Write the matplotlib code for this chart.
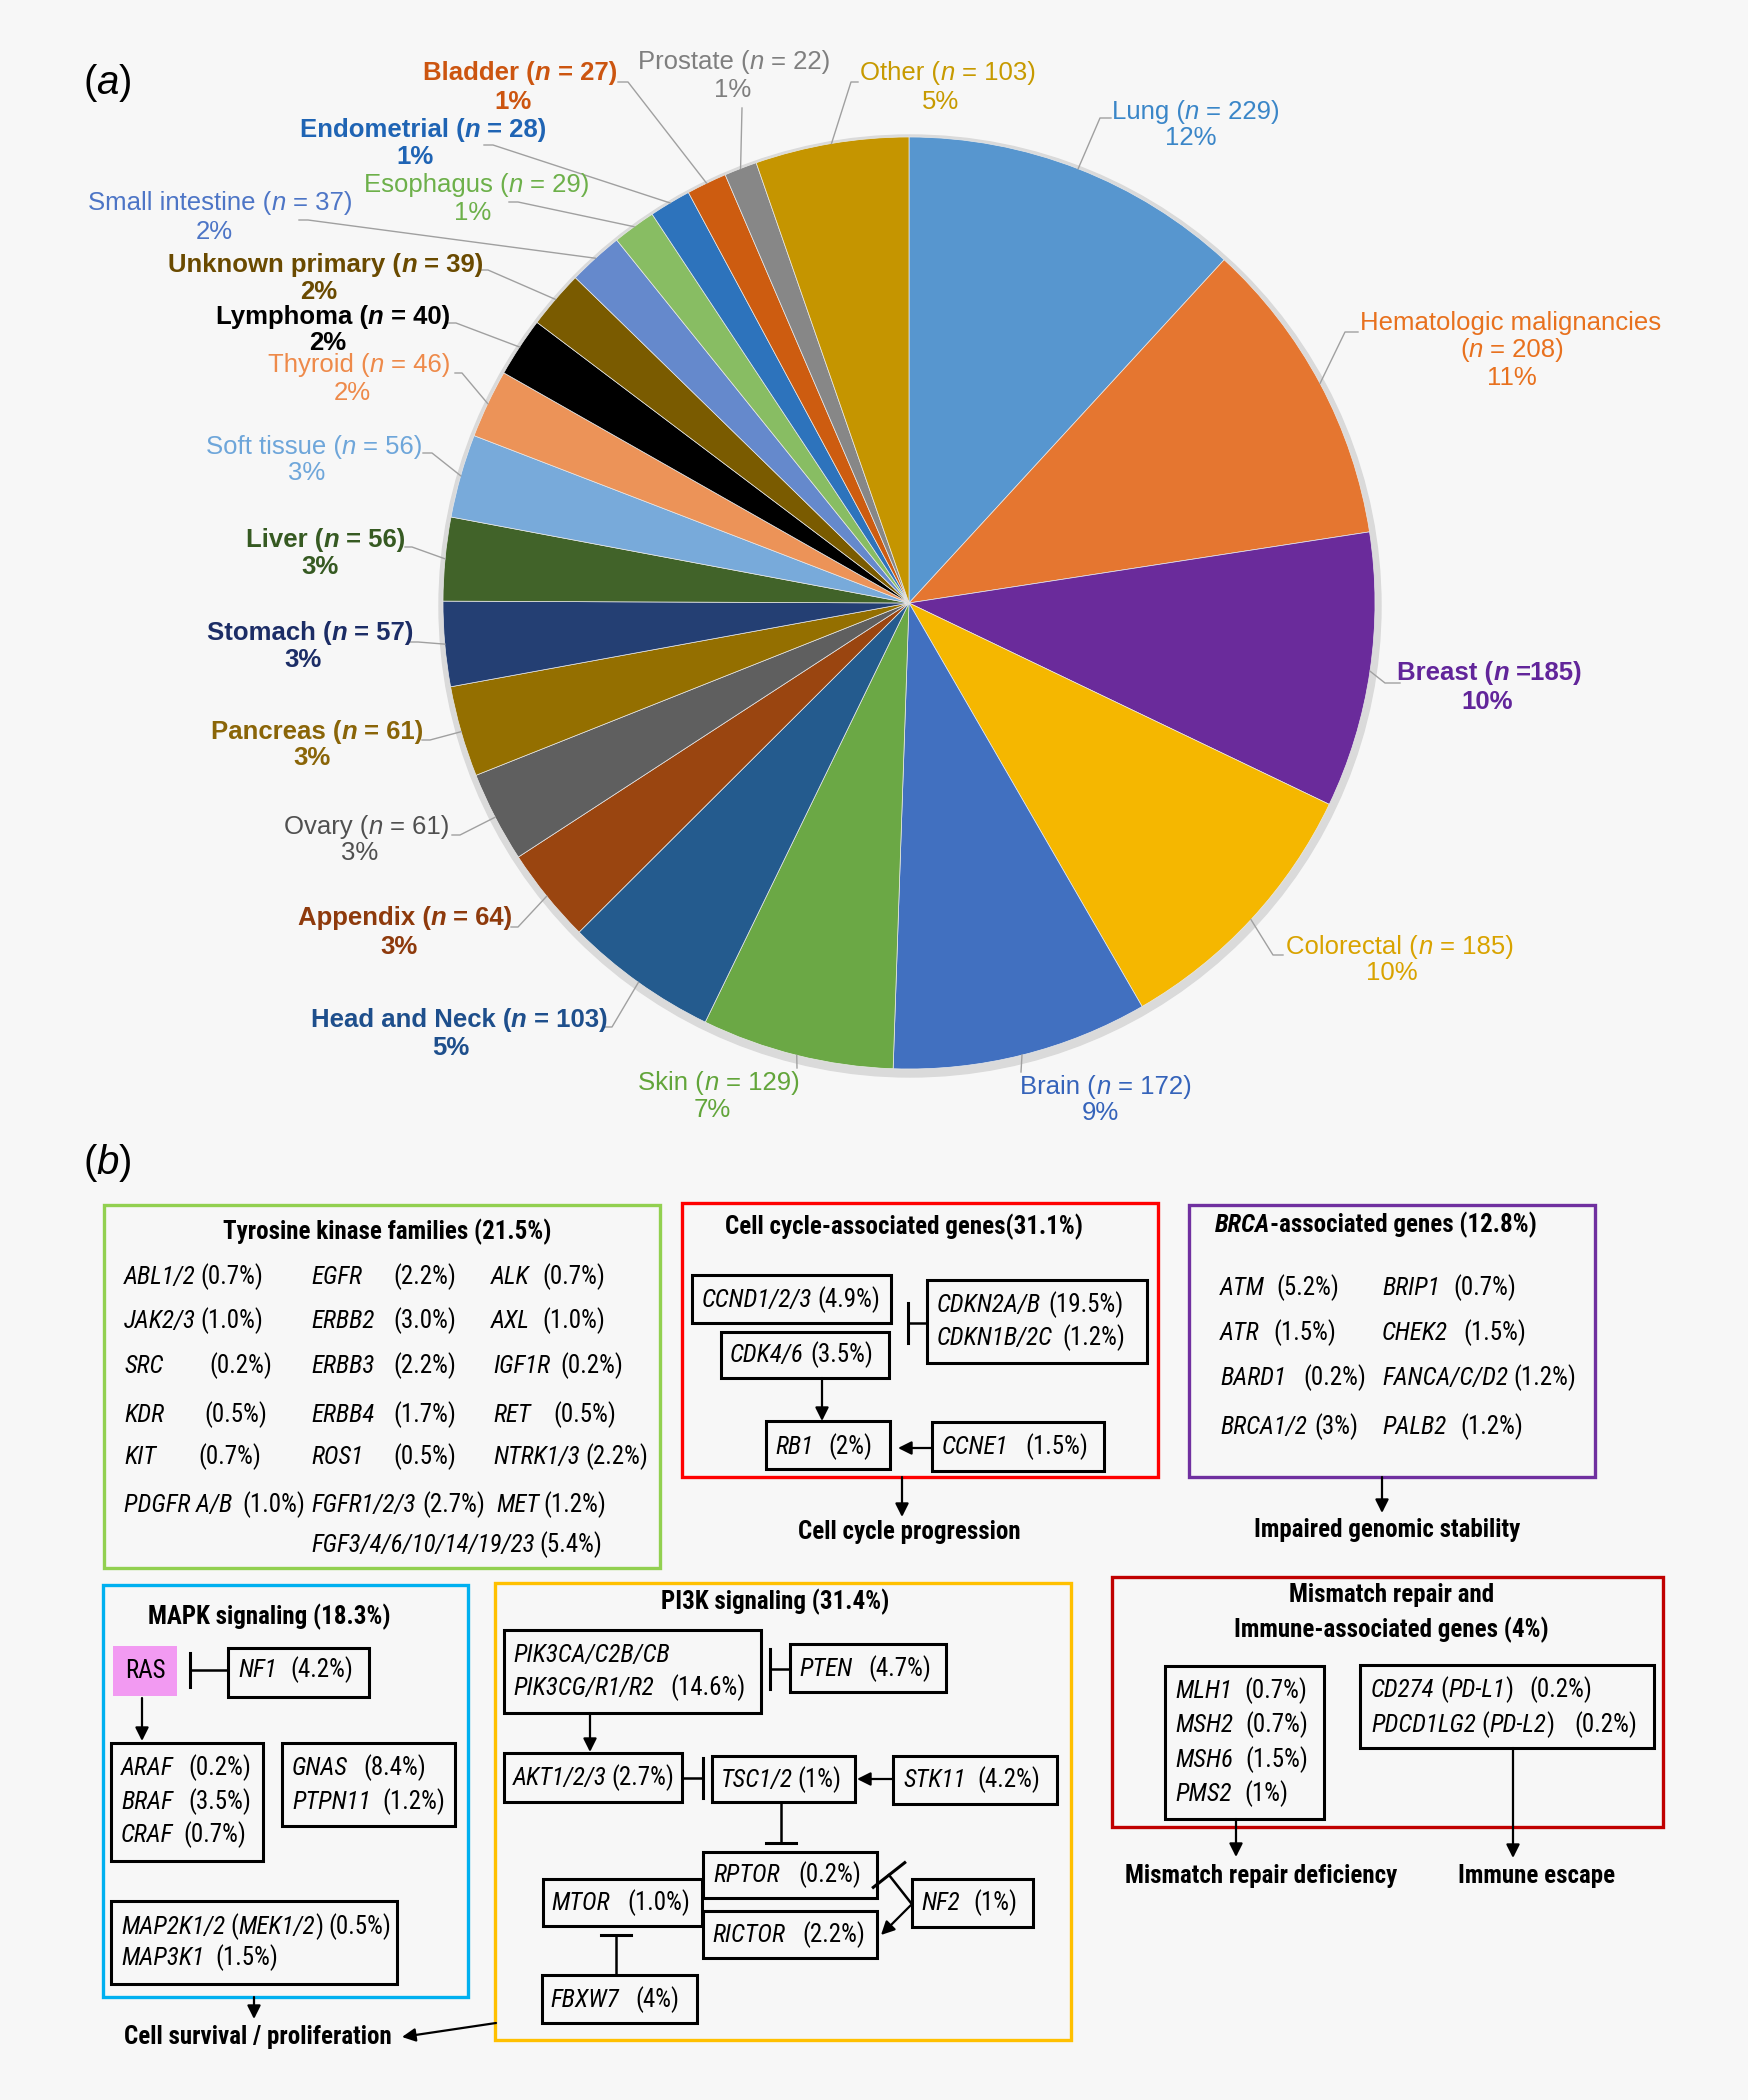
import numpy as np
import matplotlib.pyplot as plt
from matplotlib import font_manager
from matplotlib.font_manager import FontProperties
from matplotlib.patches import Rectangle, Circle

W, H = 1748, 2100
BG = '#f7f7f7'

# ---------------- panel (a) data
sites = ['Lung', 'Hematologic malignancies', 'Breast', 'Colorectal', 'Brain', 'Skin',
         'Head and Neck', 'Appendix', 'Ovary', 'Pancreas', 'Stomach', 'Liver',
         'Soft tissue', 'Thyroid', 'Lymphoma', 'Unknown primary', 'Small intestine',
         'Esophagus', 'Endometrial', 'Bladder', 'Prostate', 'Other']
counts = [229, 208, 185, 185, 172, 129, 103, 64, 61, 61, 57, 56, 56, 46, 40, 39, 37,
          29, 28, 27, 22, 103]

wedge_colors = ['#5796CF', '#E57630', '#6A2B9B', '#F5B700', '#4170C0', '#6BA845',
                '#245B8E', '#9A4510', '#5F5F5F', '#946F00', '#243F73', '#416329',
                '#78AADA', '#EC9358', '#000000', '#7A5B00', '#6589CC', '#88BD63',
                '#2D73BC', '#CD5C10', '#878787', '#C59500']
label_colors = ['#3A86C8', '#E8711E', '#62259A', '#D9A300', '#3563BA', '#62A53A',
                '#1E4F8C', '#8E3A0C', '#505050', '#8A6508', '#1C2D66', '#365A22',
                '#6EA6DA', '#EE8A4A', '#000000', '#6A4A00', '#4D75C6', '#6DB04A',
                '#1F64B4', '#CC5510', '#7F7F7F', '#C79A00']
bold_sites = {'Unknown primary', 'Lymphoma', 'Liver', 'Stomach', 'Pancreas', 'Appendix',
              'Head and Neck', 'Breast', 'Bladder', 'Endometrial'}

# label layout (pixels): first line centre, percent line centre, leader path
lab1 = [(1196, 112), (1511, 323), (1490, 673), (1400, 947), (1106, 1087), (719, 1083),
        (459, 1020), (405, 918), (367, 827), (317, 732), (310, 633), (326, 540),
        (314, 447), (359, 365), (333, 317), (326, 265), (220, 203), (477, 185),
        (423, 130), (520, 73), (734, 62), (948, 73)]
lab2 = [(1191, 138), (1512, 378), (1487, 702), (1392, 973), (1100, 1113), (712, 1110),
        (451, 1048), (399, 947), (360, 853), (312, 758), (303, 660), (320, 567),
        (307, 473), (352, 393), (328, 343), (319, 292), (214, 232), (473, 213),
        (415, 157), (513, 102), (733, 90), (941, 102)]
lead = [[(1100, 118), (1111, 118)], [(1345, 332), (1358, 332)], [(1385, 683), (1400, 683)],
        [(1273, 955), (1283, 955)], [(1021, 1072)], [(797, 1068)],
        [(612, 1027), (604, 1027)], [(518, 927), (511, 927)], [(460, 835), (452, 835)],
        [(430, 740), (422, 740)], [(418, 642), (410, 642)], [(412, 547), (405, 547)],
        [(432, 453), (423, 453)], [(462, 373), (455, 373)], [(456, 323), (448, 323)],
        [(488, 270), (480, 270)], [(308, 220), (299, 220)], [(518, 202), (509, 202)],
        [(493, 145), (484, 145)], [(628, 82), (618, 82)], [(742, 108)],
        [(851, 82), (858, 82)]]

# ---------------- panel (b) data
tk_genes = ['ABL1/2', 'JAK2/3', 'SRC', 'KDR', 'KIT', 'PDGFR A/B',
            'EGFR', 'ERBB2', 'ERBB3', 'ERBB4', 'ROS1', 'FGFR1/2/3', 'FGF3/4/6/10/14/19/23',
            'ALK', 'AXL', 'IGF1R', 'RET', 'NTRK1/3', 'MET']
tk_pct = ['0.7', '1.0', '0.2', '0.5', '0.7', '1.0',
          '2.2', '3.0', '2.2', '1.7', '0.5', '2.7', '5.4',
          '0.7', '1.0', '0.2', '0.5', '2.2', '1.2']
cc_genes = ['CCND1/2/3', 'CDK4/6', 'CDKN2A/B', 'CDKN1B/2C', 'RB1', 'CCNE1']
cc_pct = ['4.9', '3.5', '19.5', '1.2', '2', '1.5']
brca_genes = ['ATM', 'ATR', 'BARD1', 'BRCA1/2', 'BRIP1', 'CHEK2', 'FANCA/C/D2', 'PALB2']
brca_pct = ['5.2', '1.5', '0.2', '3', '0.7', '1.5', '1.2', '1.2']
mapk_genes = ['NF1', 'ARAF', 'BRAF', 'CRAF', 'GNAS', 'PTPN11', 'MAP2K1/2 (MEK1/2)', 'MAP3K1']
mapk_pct = ['4.2', '0.2', '3.5', '0.7', '8.4', '1.2', '0.5', '1.5']
pi_genes = ['PIK3CA/C2B/CB', 'PIK3CG/R1/R2', 'PTEN', 'AKT1/2/3', 'TSC1/2', 'STK11',
            'RPTOR', 'MTOR', 'RICTOR', 'NF2', 'FBXW7']
pi_pct = [None, '14.6', '4.7', '2.7', '1', '4.2', '0.2', '1.0', '2.2', '1', '4']
mmr_genes = ['MLH1', 'MSH2', 'MSH6', 'PMS2', 'CD274 (PD-L1)', 'PDCD1LG2 (PD-L2)']
mmr_pct = ['0.7', '0.7', '1.5', '1', '0.2', '0.2']

# layout of the gene texts: gene x, percent x, y
rows = [1277, 1321, 1366, 1415, 1457, 1505, 1545]
tk_xg = [124] * 6 + [311] * 7 + [491, 491, 493, 493, 493, 496]
tk_xp = [198, 198, 209, 204, 198, 242, 393, 393, 393, 393, 393, 422, 523,
         542, 542, 560, 553, 585, 542]
tk_y = rows[:6] + rows[:7] + rows[:6]
cc_xg = [702, 730, 937, 937, 775, 942]
cc_xp = [815, 810, 1048, 1062, 828, 1025]
cc_y = [1300, 1355, 1305, 1338, 1447, 1447]
brca_xg = [1220] * 4 + [1382] * 4
brca_xp = [1276, 1273, 1303, 1314, 1453, 1463, 1513, 1460]
brca_y = [1288, 1333, 1378, 1427] * 2
mapk_xg = [238, 121, 121, 121, 292, 292, 121, 121]
mapk_xp = [290, 188, 188, 183, 363, 382, 323, 215]
mapk_y = [1670, 1768, 1802, 1835, 1768, 1802, 1927, 1958]
pi_xg = [513, 513, 799, 513, 721, 903, 713, 551, 712, 921, 550]
pi_xp = [None, 670, 868, 608, 796, 977, 798, 627, 802, 973, 635]
pi_y = [1655, 1688, 1669, 1778, 1780, 1780, 1875, 1903, 1935, 1903, 2000]
mmr_xg = [1175] * 4 + [1371, 1371]
mmr_xp = [1244, 1245, 1245, 1244, 1529, 1574]
mmr_y = [1691, 1725, 1760, 1794, 1690, 1725]

# ---------------- fonts
names = {f.name for f in font_manager.fontManager.ttflist}
FA = 'Liberation Sans'
FB, SB, ST = 'Liberation Sans', 16, 17
for cand in ['Liberation Sans Narrow', 'Arial Narrow', 'Roboto Condensed',
             'Open Sans Condensed', 'Noto Sans Condensed']:
    if cand in names:
        FB, SB, ST = cand, 18, 18
        break
SA = 18.5

fig = plt.figure(figsize=(W / 100, H / 100), dpi=100, facecolor=BG)
ax = fig.add_axes([0, 0, 1, 1])
ax.set_facecolor(BG)
R = fig.canvas.get_renderer()


def width(s, fp):
    w2 = R.get_text_width_height_descent('xx', fp, ismath=False)[0]
    w = R.get_text_width_height_descent('x' + s + 'x', fp, ismath=False)[0]
    return w - w2


def rich(x, y, parts, size, color='black', family=FA, ha='left', weight='normal'):
    fps = [FontProperties(family=family, size=size, weight=weight,
                          style='italic' if it else 'normal') for s, it in parts]
    ws = [width(s, fp) for (s, it), fp in zip(parts, fps)]
    x0 = x - sum(ws) / 2 if ha == 'center' else x
    for (s, it), fp, w in zip(parts, fps, ws):
        lead_sp = len(s) - len(s.lstrip())
        xo = width(s[:lead_sp], fp) if lead_sp else 0
        ax.text(x0 + xo, y, s.strip(), fontproperties=fp, color=color,
                ha='left', va='center', zorder=5)
        x0 += w
    return x0


def gene_parts(g):
    if ' (' in g:
        a, b = g.split(' (')
        return [(a, True), (' (', False), (b.rstrip(')'), True), (')', False)]
    return [(g, True)]


def genes(glist, plist, xg, xp, ys):
    gap = width(' ', FontProperties(family=FB, size=SB)) * 0.8
    for g, p, a, b, y in zip(glist, plist, xg, xp, ys):
        end = rich(a, y, gene_parts(g), SB, family=FB)
        if p is not None:
            ax.text(max(b, end + gap), y, '(%s%%)' % p, fontsize=SB, family=FB,
                    va='center', ha='left', zorder=5)


def box(x0, y0, x1, y1, ec='black', lw=2.2, fc=None):
    ax.add_patch(Rectangle((x0, y0), x1 - x0, y1 - y0, fill=fc is not None,
                           facecolor=fc, edgecolor=ec if fc is None else 'none', lw=lw, zorder=3))


def arrow(x0, y0, x1, y1):
    ax.annotate('', xy=(x1, y1), xytext=(x0, y0),
                arrowprops=dict(arrowstyle='-|>,head_length=0.5,head_width=0.25', color='black',
                                lw=1.6, shrinkA=0, shrinkB=0, mutation_scale=16), zorder=4)


def inhibit(x0, y0, x1, y1, half=20):
    ax.plot([x0, x1], [y0, y1], color='black', lw=1.8, zorder=4)
    d = np.array([x1 - x0, y1 - y0], float)
    d /= np.hypot(*d)
    p = np.array([-d[1], d[0]])
    ax.plot([x1 - half * p[0], x1 + half * p[0]], [y1 - half * p[1], y1 + half * p[1]],
            color='black', lw=2.2, zorder=4)


def title(x, y, s, ha='center'):
    ax.text(x, y, s, fontsize=ST, family=FB, weight='bold', ha=ha, va='center', zorder=5)


# ---------------- panel (a): pie
cx, cy, RAD = 909, 603, 466
ax.add_patch(Circle((cx + 1, cy + 3), RAD + 5, color='#dadada', zorder=0.5))
wedges, _ = ax.pie(counts, colors=wedge_colors, startangle=270, counterclock=True,
                   center=(cx, cy), radius=RAD, frame=True,
                   wedgeprops=dict(edgecolor='#e9e9e9', linewidth=0.5))
total = sum(counts)
for i, w in enumerate(wedges):
    mid = np.deg2rad((w.theta1 + w.theta2) / 2)
    pts = [(cx + RAD * np.cos(mid), cy + RAD * np.sin(mid))] + lead[i]
    ax.plot([p[0] for p in pts], [p[1] for p in pts], color='#a0a0a0', lw=1.0, zorder=1)
    col = label_colors[i]
    wt = 'bold' if sites[i] in bold_sites else 'normal'
    pct = '%d%%' % round(counts[i] / total * 100)
    if sites[i] == 'Hematologic malignancies':
        rich(lab1[i][0], lab1[i][1], [(sites[i], False)], SA, col, ha='center', weight=wt)
        rich(lab2[i][0], 350, [('(', False), ('n', True), (' = %d)' % counts[i], False)],
             SA, col, ha='center', weight=wt)
    else:
        eq = ' =' if sites[i] == 'Breast' else ' = '
        rich(lab1[i][0], lab1[i][1],
             [(sites[i] + ' (', False), ('n', True), (eq + '%d)' % counts[i], False)],
             SA, col, ha='center', weight=wt)
    rich(lab2[i][0], lab2[i][1], [(pct, False)], SA, col, ha='center', weight=wt)

rich(83, 83, [('(', False), ('a', True), (')', False)], 29)
rich(83, 1163, [('(', False), ('b', True), (')', False)], 29)

# ---------------- panel (b)
# tyrosine kinase families
box(104, 1205, 660, 1568, ec='#92D050', lw=2.4)
title(387, 1232, 'Tyrosine kinase families (21.5%)')
genes(tk_genes, tk_pct, tk_xg, tk_xp, tk_y)

# cell cycle
box(682, 1203, 1158, 1477, ec='#FF0000', lw=2.4)
title(904, 1227, 'Cell cycle-associated genes(31.1%)')
for b in [(692, 1275, 891, 1323), (721, 1332, 889, 1378), (927, 1280, 1147, 1363),
          (766, 1421, 890, 1469), (932, 1422, 1104, 1471)]:
    box(*b)
genes(cc_genes, cc_pct, cc_xg, cc_xp, cc_y)
inhibit(927, 1323, 908, 1323)
arrow(822, 1378, 822, 1421)
arrow(931, 1448, 898, 1448)
arrow(902, 1477, 902, 1517)
title(909, 1532, 'Cell cycle progression')

# BRCA
box(1189, 1205, 1595, 1477, ec='#7030A0', lw=2.4)
rich(1215, 1225, [('BRCA', True), ('-associated genes (12.8%)', False)], ST, family=FB, weight='bold')
genes(brca_genes, brca_pct, brca_xg, brca_xp, brca_y)
arrow(1382, 1477, 1382, 1513)
title(1387, 1530, 'Impaired genomic stability')

# MAPK
box(103, 1585, 468, 1997, ec='#00B0F0', lw=2.4)
title(269, 1617, 'MAPK signaling (18.3%)')
box(113, 1646, 177, 1696, fc='#F29AF2')
ax.text(145, 1671, 'RAS', fontsize=SB, family=FB, ha='center', va='center', zorder=5)
for b in [(228, 1648, 369, 1697), (111, 1743, 263, 1861), (282, 1743, 455, 1826),
          (111, 1901, 397, 1984)]:
    box(*b)
genes(mapk_genes, mapk_pct, mapk_xg, mapk_xp, mapk_y)
inhibit(228, 1670, 190, 1670, half=17)
arrow(142, 1698, 142, 1741)
arrow(254, 1997, 254, 2019)
title(258, 2037, 'Cell survival / proliferation')
arrow(496, 2023, 402, 2037)

# PI3K
box(495, 1583, 1071, 2040, ec='#FFC000', lw=2.4)
title(775, 1602, 'PI3K signaling (31.4%)')
for b in [(504, 1630, 761, 1713), (790, 1644, 946, 1692), (504, 1753, 682, 1802),
          (712, 1756, 855, 1802), (893, 1756, 1057, 1804), (703, 1852, 877, 1898),
          (543, 1879, 702, 1926), (703, 1911, 877, 1958), (912, 1879, 1033, 1927),
          (542, 1975, 697, 2023)]:
    box(*b)
genes(pi_genes, pi_pct, pi_xg, pi_xp, pi_y)
inhibit(790, 1669, 770, 1669)
arrow(590, 1713, 590, 1752)
inhibit(682, 1778, 703, 1778)
arrow(893, 1779, 857, 1779)
inhibit(781, 1802, 781, 1843, half=15)
inhibit(911, 1903, 889, 1875)
arrow(911, 1905, 881, 1935)
inhibit(616, 1975, 616, 1935, half=15)

# mismatch repair / immune
box(1112, 1577, 1663, 1827, ec='#C00000', lw=2.4)
title(1392, 1595, 'Mismatch repair and')
title(1391, 1630, 'Immune-associated genes (4%)')
box(1165, 1666, 1324, 1819)
box(1360, 1665, 1654, 1748)
genes(mmr_genes, mmr_pct, mmr_xg, mmr_xp, mmr_y)
arrow(1236, 1819, 1236, 1857)
arrow(1513, 1748, 1513, 1858)
title(1261, 1876, 'Mismatch repair deficiency')
title(1537, 1876, 'Immune escape')

ax.set_xlim(0, W)
ax.set_ylim(H, 0)
ax.axis('off')
fig.savefig('out.png', dpi=100, facecolor=BG)
